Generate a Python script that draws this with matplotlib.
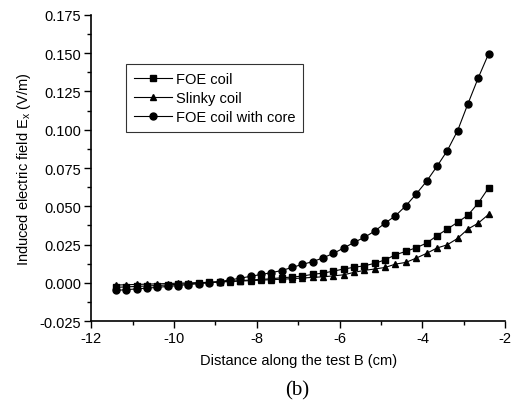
import matplotlib.pyplot as plt
from matplotlib.ticker import MultipleLocator

# distance along test B (cm)
x = [-11.4, -11.15, -10.9, -10.65, -10.4, -10.15, -9.9, -9.65, -9.4, -9.15,
     -8.9, -8.65, -8.4, -8.15, -7.9, -7.65, -7.4, -7.15, -6.9, -6.65,
     -6.4, -6.15, -5.9, -5.65, -5.4, -5.15, -4.9, -4.65, -4.4, -4.15,
     -3.9, -3.65, -3.4, -3.15, -2.9, -2.65, -2.4]

foe = [-0.0030, -0.0027, -0.0024, -0.0021, -0.0018, -0.0014, -0.0010, -0.0006, -0.0002, 0.0002,
       0.0006, 0.0010, 0.0014, 0.0018, 0.0022, 0.0026, 0.0033, 0.0037, 0.0044, 0.0055,
       0.0063, 0.0076, 0.0090, 0.0101, 0.0111, 0.0127, 0.0150, 0.0183, 0.0205, 0.0229,
       0.0259, 0.0307, 0.0351, 0.0395, 0.0442, 0.0521, 0.0621]

slinky = [-0.0015, -0.0013, -0.0011, -0.0009, -0.0007, -0.0005, -0.0003, -0.0001, 0.0001, 0.0003,
          0.0005, 0.0008, 0.0011, 0.0014, 0.0017, 0.0020, 0.0023, 0.0027, 0.0031, 0.0035,
          0.0039, 0.0045, 0.0052, 0.0068, 0.0081, 0.0090, 0.0100, 0.0122, 0.0133, 0.0161,
          0.0192, 0.0227, 0.0248, 0.0290, 0.0351, 0.0390, 0.0447]

core = [-0.0050, -0.0045, -0.0040, -0.0035, -0.0030, -0.0024, -0.0018, -0.0012, -0.0006, 0.0000,
        0.0008, 0.0018, 0.0030, 0.0042, 0.0054, 0.0066, 0.0080, 0.0100, 0.0120, 0.0138,
        0.0163, 0.0192, 0.0227, 0.0264, 0.0297, 0.0338, 0.0390, 0.0438, 0.0503, 0.0580,
        0.0663, 0.0760, 0.0863, 0.0994, 0.1170, 0.1340, 0.1497]

plt.rcParams['font.family'] = ['Liberation Sans', 'DejaVu Sans']
plt.rcParams['font.size'] = 10.5
plt.rcParams['axes.unicode_minus'] = False

fig = plt.figure(figsize=(5.15, 4.1), dpi=100)
ax = fig.add_axes([0.177, 0.2146, 0.804, 0.7464])

ax.plot(x, foe, 'k-s', lw=0.8, ms=5, label='FOE coil')
ax.plot(x, slinky, 'k-^', lw=0.8, ms=5, label='Slinky coil')
ax.plot(x, core, 'k-o', lw=0.8, ms=5, label='FOE coil with core')

ax.set_xlim(-12, -2)
ax.set_ylim(-0.025, 0.175)
ax.xaxis.set_major_locator(MultipleLocator(2))
ax.xaxis.set_minor_locator(MultipleLocator(1))
ax.yaxis.set_major_locator(MultipleLocator(0.025))
ax.yaxis.set_minor_locator(MultipleLocator(0.0125))
ax.yaxis.set_major_formatter(plt.FormatStrFormatter('%.3f'))
ax.tick_params(which='major', direction='out', length=5, width=1, labelsize=10.5, pad=2)
ax.tick_params(which='minor', direction='out', length=3, width=1)
ax.spines['top'].set_visible(False)
ax.spines['right'].set_visible(False)
ax.spines['left'].set_linewidth(1.2)
ax.spines['bottom'].set_linewidth(1.2)

ax.set_xlabel('Distance along the test B (cm)', fontsize=10.5, labelpad=6)
ax.set_ylabel('Induced electric field E$_\\mathregular{x}$ (V/m)', fontsize=10.5, labelpad=5)

leg = ax.legend(loc='upper left', bbox_to_anchor=(0.085, 0.84), fontsize=10.5,
                frameon=True, fancybox=False, edgecolor='k', handlelength=2.6,
                borderpad=0.55, labelspacing=0.35, handletextpad=0.25, borderaxespad=0)
leg.get_frame().set_linewidth(0.8)

fig.text(0.577, 0.035, '(b)', fontsize=15, family='Liberation Serif', ha='center')

fig.savefig('out.png', dpi=100)
